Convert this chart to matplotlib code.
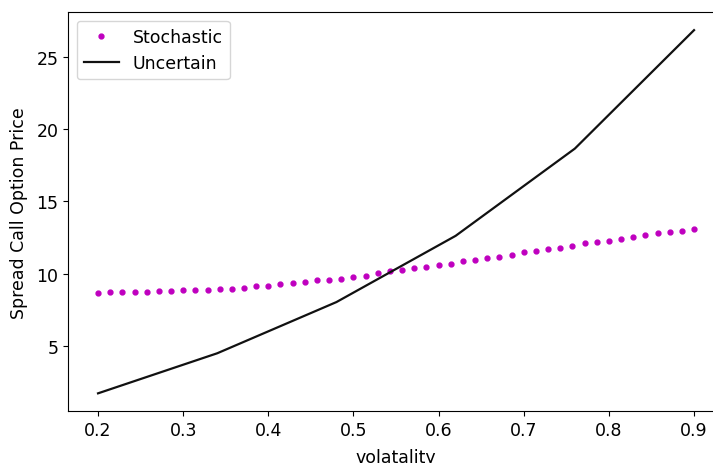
import numpy as np
import matplotlib.pyplot as plt

# volatility grid used for the stochastic model
vol_stoch = np.linspace(0.2, 0.9, 50)
price_stoch = [8.65, 8.76, 8.77, 8.77, 8.77, 8.78, 8.79, 8.84, 8.86, 8.88,
               8.93, 8.95, 9.03, 9.14, 9.17, 9.26, 9.33, 9.43, 9.54, 9.57,
               9.63, 9.75, 9.86, 10.06, 10.21, 10.27, 10.37, 10.48, 10.58, 10.69,
               10.85, 10.97, 11.08, 11.19, 11.29, 11.47, 11.59, 11.68, 11.77, 11.89,
               12.10, 12.21, 12.28, 12.39, 12.51, 12.69, 12.81, 12.90, 12.97, 13.12]

# uncertain volatility model, coarse grid
vol_unc = [0.2, 0.34, 0.48, 0.62, 0.76, 0.9]
price_unc = [1.73, 4.5, 8.04, 12.62, 18.65, 26.84]

plt.rcParams['font.size'] = 12.5

fig = plt.figure(figsize=(7.13, 4.64), dpi=100)
ax = fig.add_axes([0.0957, 0.111, 0.9195, 0.861])

ax.plot(vol_stoch, price_stoch, 'm.', markersize=7, label='Stochastic')
ax.plot(vol_unc, price_unc, color='#111111', linewidth=1.6, label='Uncertain')
ax.set_xlabel('volatality', labelpad=6)
ax.set_ylabel('Spread Call Option Price', labelpad=6)
ax.legend(loc='upper left')

fig.savefig('out.png', dpi=100)
